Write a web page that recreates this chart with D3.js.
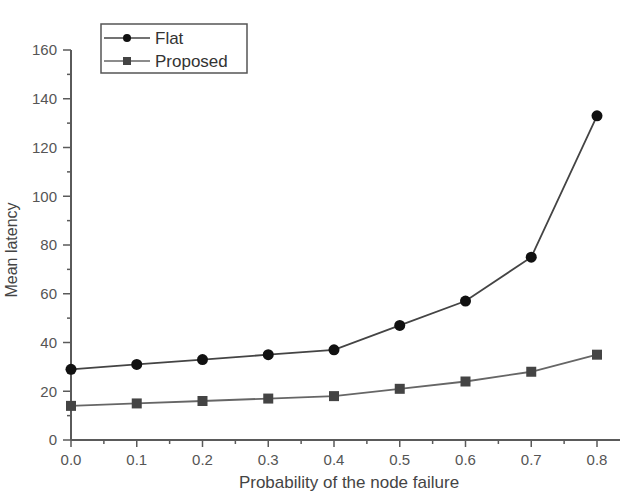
<!DOCTYPE html>
<html>
<head>
<meta charset="utf-8">
<script src="https://cdn.jsdelivr.net/npm/d3@7"></script>
<style>
  body { margin: 0; background: #fff; }
  svg { font-family: "Liberation Sans", Arial, sans-serif; }
</style>
</head>
<body>
<div id="chart"></div>
<script>
// data
var probs = [0.0, 0.1, 0.2, 0.3, 0.4, 0.5, 0.6, 0.7, 0.8];
var flat = [29, 31, 33, 35, 37, 47, 57, 75, 133];
var proposed = [14, 15, 16, 17, 18, 21, 24, 28, 35];
var xTicks = [0, 0.1, 0.2, 0.3, 0.4, 0.5, 0.6, 0.7, 0.8];
var yTicks = [0, 20, 40, 60, 80, 100, 120, 140, 160];

var width = 620, height = 495;

var svg = d3.select("#chart").append("svg")
  .attr("width", width)
  .attr("height", height);

var x = d3.scaleLinear().domain([0, 0.8]).range([71, 597]);
var y = d3.scaleLinear().domain([0, 160]).range([440, 50]);

var axisColor = "#5a5a5a";

// x axis
var gx = svg.append("g")
  .attr("transform", "translate(0," + y(0) + ")");
gx.append("line")
  .attr("x1", x(0)).attr("x2", width)
  .attr("stroke", axisColor).attr("stroke-width", 2);
gx.selectAll(".minor")
  .data(d3.range(0.05, 0.8, 0.1))
  .enter().append("line")
  .attr("x1", function(d) { return x(d); })
  .attr("x2", function(d) { return x(d); })
  .attr("y1", 0).attr("y2", 4)
  .attr("stroke", axisColor).attr("stroke-width", 1.5);
var xt = gx.selectAll(".tick")
  .data(xTicks)
  .enter().append("g")
  .attr("transform", function(d) { return "translate(" + x(d) + ",0)"; });
xt.append("line")
  .attr("y1", 0).attr("y2", 7)
  .attr("stroke", axisColor).attr("stroke-width", 1.5);
xt.append("text")
  .attr("y", 25)
  .attr("text-anchor", "middle")
  .attr("fill", "#555")
  .attr("font-size", 15)
  .text(function(d) { return d.toFixed(1); });

// y axis
var gy = svg.append("g")
  .attr("transform", "translate(" + x(0) + ",0)");
gy.append("line")
  .attr("y1", y(0)).attr("y2", y(160))
  .attr("stroke", axisColor).attr("stroke-width", 2);
gy.selectAll(".minor")
  .data(d3.range(10, 160, 20))
  .enter().append("line")
  .attr("y1", function(d) { return y(d); })
  .attr("y2", function(d) { return y(d); })
  .attr("x1", -4).attr("x2", 0)
  .attr("stroke", axisColor).attr("stroke-width", 1.5);
var yt = gy.selectAll(".tick")
  .data(yTicks)
  .enter().append("g")
  .attr("transform", function(d) { return "translate(0," + y(d) + ")"; });
yt.append("line")
  .attr("x1", -8).attr("x2", 0)
  .attr("stroke", axisColor).attr("stroke-width", 1.5);
yt.append("text")
  .attr("x", -14)
  .attr("dy", "0.35em")
  .attr("text-anchor", "end")
  .attr("fill", "#555")
  .attr("font-size", 15)
  .text(function(d) { return d; });

// axis titles
svg.append("text")
  .attr("x", 349)
  .attr("y", 488)
  .attr("text-anchor", "middle")
  .attr("fill", "#444")
  .attr("font-size", 17)
  .text("Probability of the node failure");

svg.append("text")
  .attr("transform", "translate(17,250) rotate(-90)")
  .attr("text-anchor", "middle")
  .attr("fill", "#444")
  .attr("font-size", 16)
  .text("Mean latency");

// lines
var line = d3.line()
  .x(function(d, i) { return x(probs[i]); })
  .y(function(d) { return y(d); });

svg.append("path")
  .datum(proposed)
  .attr("d", line)
  .attr("fill", "none")
  .attr("stroke", "#666")
  .attr("stroke-width", 1.8);

svg.append("path")
  .datum(flat)
  .attr("d", line)
  .attr("fill", "none")
  .attr("stroke", "#444")
  .attr("stroke-width", 1.8);

svg.selectAll(".sq")
  .data(proposed)
  .enter().append("rect")
  .attr("x", function(d, i) { return x(probs[i]) - 5; })
  .attr("y", function(d) { return y(d) - 5; })
  .attr("width", 10).attr("height", 10)
  .attr("fill", "#444");

svg.selectAll(".dot")
  .data(flat)
  .enter().append("circle")
  .attr("cx", function(d, i) { return x(probs[i]); })
  .attr("cy", function(d) { return y(d); })
  .attr("r", 5.5)
  .attr("fill", "#111");

// legend
var legend = svg.append("g");
legend.append("rect")
  .attr("x", 101).attr("y", 24)
  .attr("width", 146).attr("height", 49)
  .attr("fill", "#fff")
  .attr("stroke", "#555").attr("stroke-width", 1.5);

var items = [
  {name: "Flat", color: "#444", yy: 38, shape: "circle"},
  {name: "Proposed", color: "#666", yy: 61, shape: "square"}
];
items.forEach(function(it) {
  legend.append("line")
    .attr("x1", 104).attr("x2", 150)
    .attr("y1", it.yy).attr("y2", it.yy)
    .attr("stroke", it.color).attr("stroke-width", 1.5);
  if (it.shape == "circle") {
    legend.append("circle")
      .attr("cx", 127).attr("cy", it.yy).attr("r", 4)
      .attr("fill", "#111");
  } else {
    legend.append("rect")
      .attr("x", 123).attr("y", it.yy - 4)
      .attr("width", 8).attr("height", 8)
      .attr("fill", "#444");
  }
  legend.append("text")
    .attr("x", 155)
    .attr("y", it.yy + 6)
    .attr("fill", "#333")
    .attr("font-size", 17)
    .text(it.name);
});
</script>
</body>
</html>
